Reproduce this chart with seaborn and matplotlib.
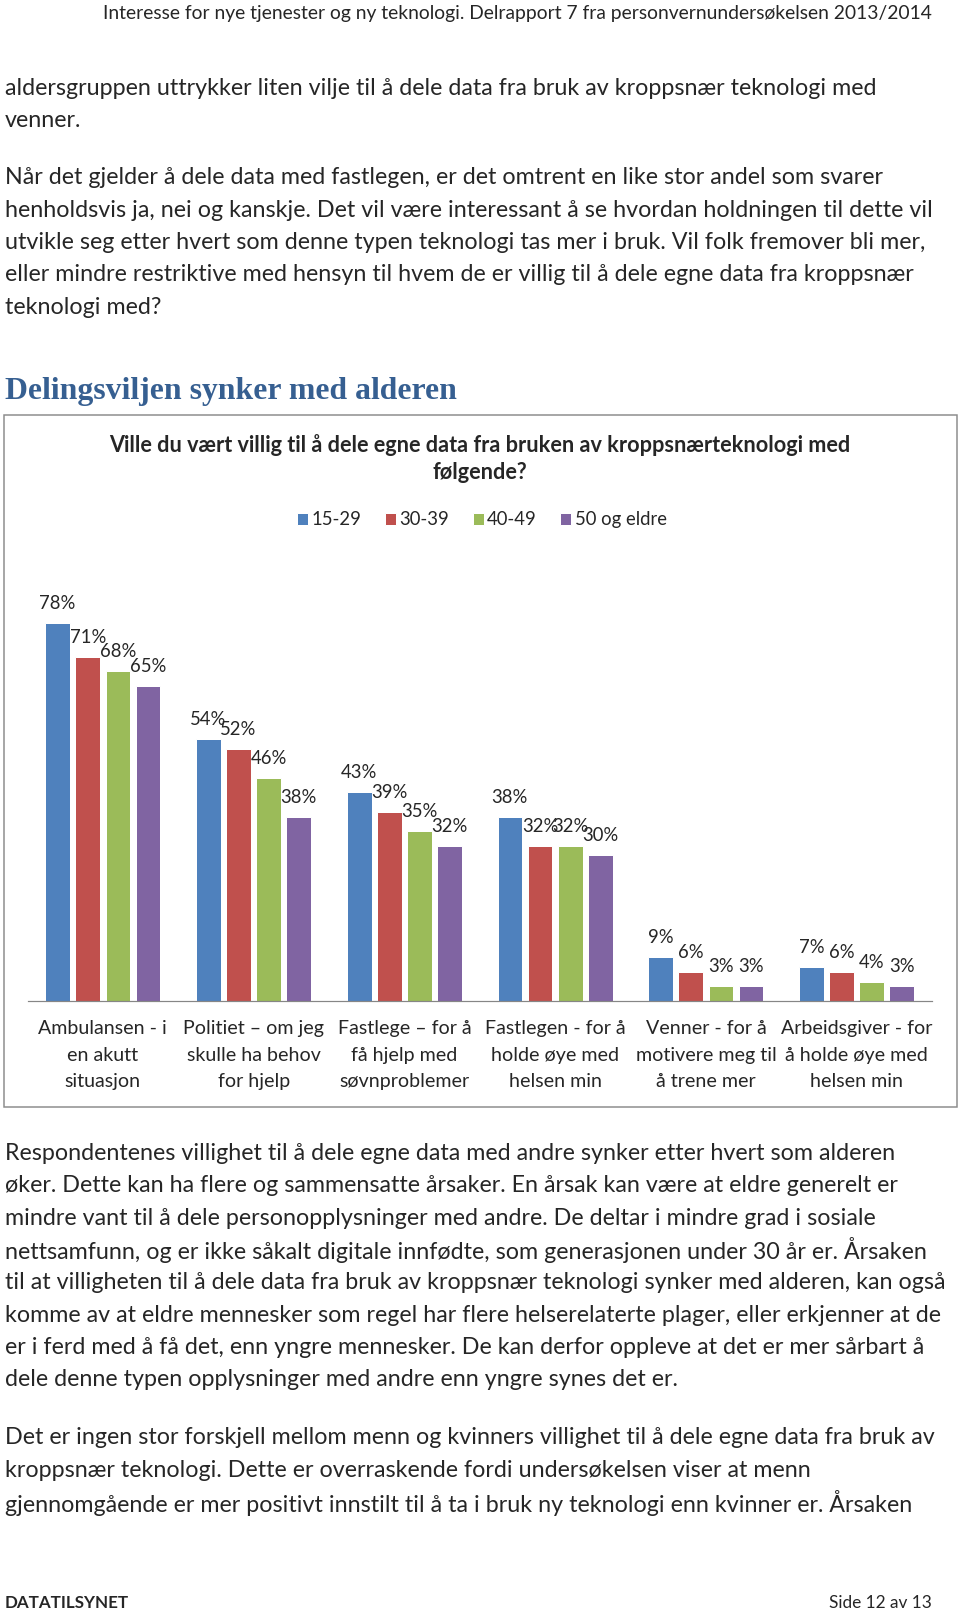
### PAGE 12: SHARING WILLINGNESS BY AGE GROUP

## LOAD LIBRARIES
import pandas as pd
import numpy as np
import matplotlib.pyplot as plt
import matplotlib.patches as patches
import seaborn as sns

## DATA
categories = ["Ambulansen - i\nen akutt\nsituasjon",
              "Politiet – om jeg\nskulle ha behov\nfor hjelp",
              "Fastlege – for å\nfå hjelp med\nsøvnproblemer",
              "Fastlegen - for å\nholde øye med\nhelsen min",
              "Venner - for å\nmotivere meg til\nå trene mer",
              "Arbeidsgiver - for\nå holde øye med\nhelsen min"]
age_groups = ["15-29", "30-39", "40-49", "50 og eldre"]
share_15_29 = [78, 54, 43, 38, 9, 7]
share_30_39 = [71, 52, 39, 32, 6, 6]
share_40_49 = [68, 46, 35, 32, 3, 4]
share_50_up = [65, 38, 32, 30, 3, 3]
colors = ["#4F81BD", "#C0504D", "#9BBB59", "#8064A2"]

header = "Interesse for nye tjenester og ny teknologi. Delrapport 7 fra personvernundersøkelsen 2013/2014"
para_top = ["aldersgruppen uttrykker liten vilje til å dele data fra bruk av kroppsnær teknologi med",
            "venner."]
para_mid = ["Når det gjelder å dele data med fastlegen, er det omtrent en like stor andel som svarer",
            "henholdsvis ja, nei og kanskje. Det vil være interessant å se hvordan holdningen til dette vil",
            "utvikle seg etter hvert som denne typen teknologi tas mer i bruk. Vil folk fremover bli mer,",
            "eller mindre restriktive med hensyn til hvem de er villig til å dele egne data fra kroppsnær",
            "teknologi med?"]
heading = "Delingsviljen synker med alderen"
chart_title = "Ville du vært villig til å dele egne data fra bruken av kroppsnærteknologi med\nfølgende?"
para_after1 = ["Respondentenes villighet til å dele egne data med andre synker etter hvert som alderen",
               "øker. Dette kan ha flere og sammensatte årsaker. En årsak kan være at eldre generelt er",
               "mindre vant til å dele personopplysninger med andre. De deltar i mindre grad i sosiale",
               "nettsamfunn, og er ikke såkalt digitale innfødte, som generasjonen under 30 år er. Årsaken",
               "til at villigheten til å dele data fra bruk av kroppsnær teknologi synker med alderen, kan også",
               "komme av at eldre mennesker som regel har flere helserelaterte plager, eller erkjenner at de",
               "er i ferd med å få det, enn yngre mennesker. De kan derfor oppleve at det er mer sårbart å",
               "dele denne typen opplysninger med andre enn yngre synes det er."]
para_after2 = ["Det er ingen stor forskjell mellom menn og kvinners villighet til å dele egne data fra bruk av",
               "kroppsnær teknologi. Dette er overraskende fordi undersøkelsen viser at menn",
               "gjennomgående er mer positivt innstilt til å ta i bruk ny teknologi enn kvinner er. Årsaken"]
footer_left = "DATATILSYNET"
footer_right = "Side 12 av 13"

## LONG FORMAT TABLE
df = pd.DataFrame({
    "Kategori": categories * 4,
    "Alder": np.repeat(age_groups, len(categories)),
    "Andel": (share_15_29 + share_30_39 + share_40_49 + share_50_up),
})
df["Andel"] = df["Andel"] / 100

## STYLE
sns.set_style("white")
plt.rcParams["font.family"] = ["Lato", "DejaVu Sans"]

W, H = 960, 1613
fig = plt.figure(figsize=(W / 72, H / 72), dpi=72)

def fy(y):
    #### pixel row -> figure fraction
    return 1 - y / H

def fx(x):
    return x / W

body_size = 23.3
pitch = 32.3

#### Header
fig.text(fx(932), fy(13), header, ha="right", va="center", fontsize=19.3)

#### Paragraphs
def para(lines, y0):
    for i, line in enumerate(lines):
        fig.text(fx(5), fy(y0 + i * pitch), line, ha="left", va="center", fontsize=body_size)

para(para_top, 88.5)
para(para_mid, 178)
para(para_after1, 1153.5)
para(para_after2, 1438)

#### Heading
fig.text(fx(5), fy(392), heading, ha="left", va="center", fontsize=31.8,
         fontweight="bold", color="#365F91", family=["Liberation Serif", "DejaVu Serif"])

#### Chart frame
fig.patches.append(patches.Rectangle((fx(4), fy(1107)), fx(953), (1107 - 415) / H,
                                     transform=fig.transFigure, fill=False,
                                     edgecolor="#8c8c8c", linewidth=1.5))
fig.text(fx(480), fy(458.5), chart_title, ha="center", va="center", fontsize=21.6,
         fontweight="bold", linespacing=1.4)

#### Bars
ax = fig.add_axes([fx(27.5), (H - 1001) / H, 904.5 / W, 436.6 / H])
sns.barplot(data=df, x="Kategori", y="Andel", hue="Alder", order=categories,
            hue_order=age_groups, palette=colors, width=0.8, gap=0.18,
            saturation=1, ax=ax)
ax.set_xlim(-0.5, 5.5)
ax.set_ylim(0, 0.9)
for c in ax.containers:
    ax.bar_label(c, labels=[f"{v * 100:.0f}%" for v in c.datavalues],
                 padding=11, fontsize=18.5)

handles, labels = ax.get_legend_handles_labels()
ax.get_legend().remove()
fig.legend(handles, labels, loc="center", bbox_to_anchor=(fx(482), fy(520)),
           ncol=4, frameon=False, fontsize=18.5, handlelength=0.6, handleheight=0.6,
           handletextpad=0.2, columnspacing=1.25)

ax.set_xlabel("")
ax.set_ylabel("")
ax.set_yticks([])
for side in ["top", "left", "right"]:
    ax.spines[side].set_visible(False)
ax.spines["bottom"].set_color("#868686")
ax.spines["bottom"].set_linewidth(1.2)
ax.tick_params(axis="x", length=0, pad=19, labelsize=19.6)
for lbl in ax.get_xticklabels():
    lbl.set_linespacing(1.68)

#### Footer
fig.text(fx(5), fy(1603), footer_left, ha="left", va="center", fontsize=17, fontweight="bold")
fig.text(fx(932), fy(1603), footer_right, ha="right", va="center", fontsize=17.3)

fig.savefig("out.png", dpi=72, facecolor="white")
